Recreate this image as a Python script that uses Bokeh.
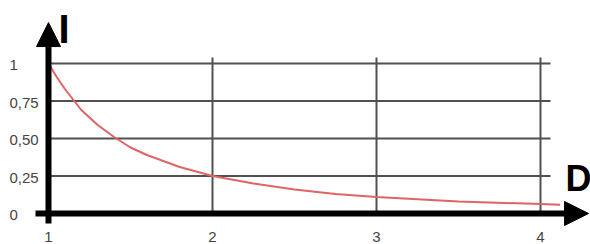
from bokeh.plotting import figure
from bokeh.models import Arrow, NormalHead, ColumnDataSource
from bokeh.core.properties import value
from bokeh.embed import file_html
from bokeh.resources import INLINE

# ---- data ----
distance = [1.0, 1.05, 1.1, 1.15, 1.2, 1.25, 1.3, 1.35, 1.4, 1.5, 1.6, 1.7, 1.8, 1.9, 2.0,
            2.25, 2.5, 2.75, 3.0, 3.5, 4.0, 4.12]
intensity = [1.0, 0.91, 0.83, 0.76, 0.69, 0.64, 0.59, 0.55, 0.51, 0.44, 0.39, 0.35, 0.31, 0.28, 0.25,
             0.20, 0.16, 0.13, 0.11, 0.08, 0.063, 0.059]

y_ticks = [0, 0.25, 0.5, 0.75, 1]
y_tick_labels = ["0", "0,25", "0,50", "0,75", "1"]
x_ticks = [1, 2, 3, 4]
x_tick_labels = ["1", "2", "3", "4"]

# ---- figure: frame fills the canvas, coordinates in data units ----
p = figure(width=590, height=244, output_backend="svg", toolbar_location=None,
           x_range=(0.7073, 4.3049), y_range=(-0.2067, 1.42),
           x_axis_type=None, y_axis_type=None, min_border=0,
           outline_line_color=None, background_fill_color="white")
p.xgrid.visible = False
p.ygrid.visible = False

grid_color = "#505050"
# horizontal grid lines
h_ticks = [t for t in y_ticks if t > 0]
p.segment(x0=[1] * len(h_ticks), x1=[4.061] * len(h_ticks), y0=h_ticks, y1=h_ticks,
          line_color=grid_color, line_width=2)
# vertical grid lines
v_ticks = [t for t in x_ticks if t > 1]
p.segment(x0=v_ticks, x1=v_ticks, y0=[0] * len(v_ticks), y1=[1.04] * len(v_ticks),
          line_color=grid_color, line_width=2)

# curve
p.line(distance, intensity, line_color="#e06464", line_width=2)

# axes with arrows
p.add_layout(Arrow(x_start=0.9207, y_start=0, x_end=4.293, y_end=0,
                   line_color="black", line_width=6,
                   end=NormalHead(size=24, fill_color="black", line_color="black", line_width=1)))
p.add_layout(Arrow(x_start=1, y_start=-0.067, x_end=1, y_end=1.273,
                   line_color="black", line_width=6,
                   end=NormalHead(size=24, fill_color="black", line_color="black", line_width=1)))

# tick labels
ysrc = ColumnDataSource(dict(x=[0.762] * len(y_ticks), y=y_ticks, t=y_tick_labels))
p.text(x="x", y="y", text="t", source=ysrc, text_font=value("Liberation Sans"),
       text_font_size="15px", text_color="#444444", text_align="left",
       text_baseline="middle", y_offset=2)
xsrc = ColumnDataSource(dict(x=x_ticks, y=[-0.1567] * len(x_ticks), t=x_tick_labels))
p.text(x="x", y="y", text="t", source=xsrc, text_font=value("Liberation Sans"),
       text_font_size="15px", text_color="#444444", text_align="center",
       text_baseline="middle")

# axis titles
p.text(x=[1.061], y=[1.2333], text=["I"], text_font=value("Liberation Sans"),
       text_font_size="40px", text_font_style="bold", text_color="black",
       text_align="left", text_baseline="middle")
p.text(x=[4.152], y=[0.23], text=["D"], text_font=value("Liberation Sans"),
       text_font_size="36px", text_font_style="bold", text_color="black",
       text_align="left", text_baseline="middle")

open("out.html", "w").write(file_html(p, INLINE))
